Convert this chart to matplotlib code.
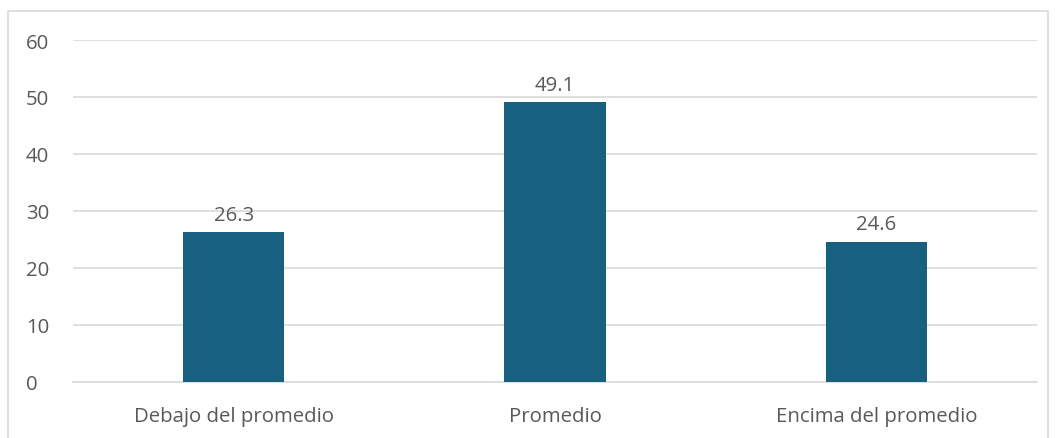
import matplotlib.pyplot as plt
from matplotlib.patches import Rectangle

categories = ["Debajo del promedio", "Promedio", "Encima del promedio"]
values = [26.3, 49.1, 24.6]
yticks = [0, 10, 20, 30, 40, 50, 60]

plt.rcParams['font.family'] = ['Open Sans', 'DejaVu Sans']
txt = '#595959'
fs = 14.7

fig = plt.figure(figsize=(10.55, 4.39), dpi=100)
ax = fig.add_axes([0.0692, 0.1276, 0.9138, 0.779])

# outer border like the spreadsheet chart frame
fig.patches.append(Rectangle((8 / 1055, -0.01), 1040 / 1055, 1 - 12 / 439 + 0.01,
                             transform=fig.transFigure, fill=False,
                             edgecolor='#d9d9d9', linewidth=1.2))

x = range(len(categories))
bars = ax.bar(x, values, width=0.315, color='#17607f', zorder=3)
for b, v in zip(bars, values):
    ax.text(b.get_x() + b.get_width() / 2, v + 1.3, f"{v:.1f}",
            ha='center', va='bottom', fontsize=fs, color=txt)

ax.set_xlim(-0.5, 2.5)
ax.set_ylim(0, 60)
ax.set_yticks(yticks)
ax.set_xticks(list(x))
ax.set_xticklabels(categories)
ax.grid(axis='y', color='#d9d9d9', linewidth=1.2, zorder=0)
for s in ['top', 'right', 'left']:
    ax.spines[s].set_visible(False)
ax.spines['bottom'].set_color('#d9d9d9')
ax.spines['bottom'].set_linewidth(1.2)
ax.tick_params(axis='both', length=0, labelsize=fs, colors=txt)
ax.tick_params(axis='y', pad=34)
ax.tick_params(axis='x', pad=17)
for lbl in ax.get_yticklabels():
    lbl.set_horizontalalignment('left')

fig.savefig('out.png', dpi=100)
